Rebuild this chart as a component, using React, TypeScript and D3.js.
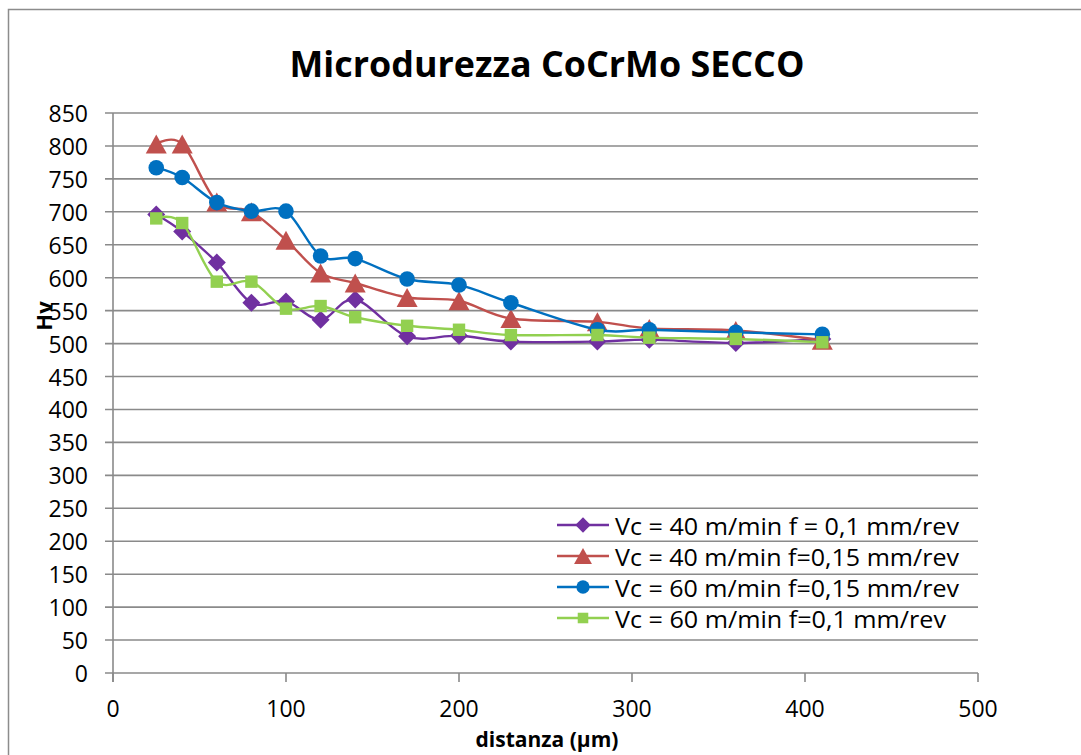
import { curveCardinal, line, scaleLinear, range } from "d3";

const distances = [25, 40, 60, 80, 100, 120, 140, 170, 200, 230, 280, 310, 360, 410];
const vc40f01 = [696, 670, 623, 562, 564, 536, 567, 511, 512, 503, 503, 506, 501, 507];
const vc40f015 = [803, 803, 715, 700, 657, 607, 592, 570, 565, 538, 533, 523, 520, 505];
const vc60f015 = [767, 752, 714, 701, 701, 633, 629, 598, 589, 562, 521, 521, 517, 514];
const vc60f01 = [690, 683, 594, 594, 553, 557, 540, 527, 521, 513, 513, 509, 507, 502];

const seriesNames = [
  "Vc = 40 m/min f = 0,1 mm/rev",
  "Vc = 40 m/min f=0,15 mm/rev",
  "Vc = 60 m/min f=0,15 mm/rev",
  "Vc = 60 m/min f=0,1 mm/rev",
];
const seriesColors = ["#7030A0", "#C0504D", "#0070C0", "#92D050"];
const seriesMarkers = ["diamond", "triangle", "circle", "square"];
const seriesValues = [vc40f01, vc40f015, vc60f015, vc60f01];

const xTicks = range(0, 501, 100);
const yTicks = range(0, 851, 50);

const width = 1081;
const height = 755;
const plotLeft = 113;
const plotRight = 978;
const plotTop = 113;
const plotBottom = 673;
const font = "'Open Sans', 'Liberation Sans', sans-serif";
const gridColor = "#8a8a8a";
// legend label widths as measured in the reference
const legendWidths = [344, 344, 344, 331];

function Marker({ kind, x, y, color, s = 1 }: { kind: string; x: number; y: number; color: string; s?: number }) {
  if (kind === "diamond") {
    const r = 9 * s;
    return <path d={`M${x},${y - r}L${x + r},${y}L${x},${y + r}L${x - r},${y}Z`} fill={color} />;
  }
  if (kind === "triangle") {
    const w = 10.5 * s;
    const h = 9.5 * s;
    return <path d={`M${x},${y - h}L${x + w},${y + h}L${x - w},${y + h}Z`} fill={color} />;
  }
  if (kind === "circle") {
    return <circle cx={x} cy={y} r={7.8 * s} fill={color} />;
  }
  const h = 6.2 * s;
  return <rect x={x - h} y={y - h} width={h * 2} height={h * 2} fill={color} />;
}

export default function App() {
  const xScale = scaleLinear().domain([0, 500]).range([plotLeft, plotRight]);
  const yScale = scaleLinear().domain([0, 850]).range([plotBottom, plotTop]);

  const lineGen = line<[number, number]>()
    .x((d) => xScale(d[0]))
    .y((d) => yScale(d[1]))
    .curve(curveCardinal.tension(0));

  const legendX = 557;
  const legendRows = [525, 556, 587, 618];

  return (
    <svg
      width={width}
      height={height}
      style={{ position: "absolute", left: 0, top: 0, background: "#fff" }}
      fontFamily={font}
    >
      <rect x={0} y={0} width={width} height={height} fill="#fff" />
      <rect x={8.5} y={9.5} width={width + 20} height={height + 20} fill="none" stroke="#8c8c8c" strokeWidth={1.5} />

      <text
        x={547}
        y={77}
        textAnchor="middle"
        fontSize={36}
        fontWeight="bold"
        fill="#000"
        textLength={515}
        lengthAdjust="spacingAndGlyphs"
      >
        Microdurezza CoCrMo SECCO
      </text>

      {yTicks.map((t) => (
        <g key={`y${t}`}>
          <line x1={plotLeft - 8} x2={plotRight} y1={yScale(t)} y2={yScale(t)} stroke={gridColor} strokeWidth={1.6} />
          <text x={88} y={yScale(t)} textAnchor="end" dominantBaseline="central" fontSize={23}>
            {t}
          </text>
        </g>
      ))}
      <line x1={plotLeft} x2={plotLeft} y1={plotTop} y2={plotBottom + 9} stroke={gridColor} strokeWidth={1.6} />
      {xTicks.map((t) => (
        <g key={`x${t}`}>
          <line x1={xScale(t)} x2={xScale(t)} y1={plotBottom} y2={plotBottom + 9} stroke={gridColor} strokeWidth={1.6} />
          <text x={xScale(t)} y={708} textAnchor="middle" dominantBaseline="central" fontSize={23}>
            {t}
          </text>
        </g>
      ))}

      <text
        transform={`translate(52, 316) rotate(-90)`}
        textAnchor="middle"
        fontSize={22}
        fontWeight="bold"
      >
        Hv
      </text>
      <text x={547} y={747} textAnchor="middle" fontSize={21} fontWeight="bold">
        distanza (µm)
      </text>

      {seriesValues.map((vals, i) => {
        const pts = distances.map((d, j) => [d, vals[j]] as [number, number]);
        return (
          <g key={seriesNames[i]}>
            <path d={lineGen(pts) ?? ""} fill="none" stroke={seriesColors[i]} strokeWidth={2.4} />
            {pts.map((p, j) => (
              <Marker key={j} kind={seriesMarkers[i]} x={xScale(p[0])} y={yScale(p[1])} color={seriesColors[i]} />
            ))}
          </g>
        );
      })}

      {seriesNames.map((name, i) => (
        <g key={`lg${i}`}>
          <line x1={legendX} x2={legendX + 52} y1={legendRows[i]} y2={legendRows[i]} stroke={seriesColors[i]} strokeWidth={2.4} />
          <Marker kind={seriesMarkers[i]} x={legendX + 26} y={legendRows[i]} color={seriesColors[i]} s={0.85} />
          <text
            x={legendX + 58}
            y={legendRows[i]}
            dominantBaseline="central"
            fontSize={24}
            textLength={legendWidths[i]}
            lengthAdjust="spacingAndGlyphs"
          >
            {name}
          </text>
        </g>
      ))}
    </svg>
  );
}
